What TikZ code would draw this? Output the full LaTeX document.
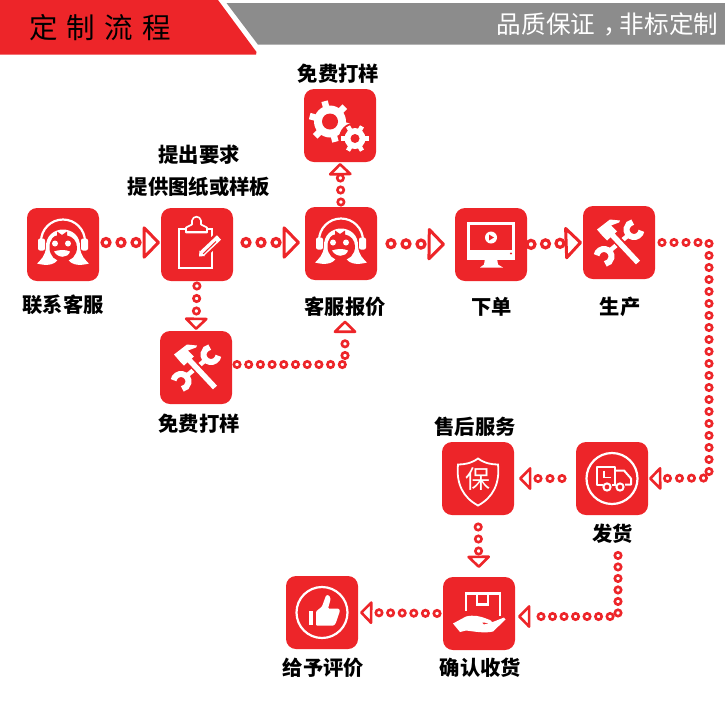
\documentclass[tikz,border=0pt]{standalone}
\usepackage{fontspec}
\setmainfont{Noto Sans CJK SC}
\usepackage{xcolor}
\usetikzlibrary{arrows.meta,decorations.markings}
\definecolor{brandred}{HTML}{ED2529}
\definecolor{bargray}{HTML}{8C8C8C}
\tikzset{
  icn/.style={fill=brandred, rounded corners=10pt, minimum width=72pt, minimum height=73pt, inner sep=0pt, outer sep=0pt},
  lab/.style={font=\fontsize{20.3}{32}\selectfont\bfseries, align=center, inner sep=0pt, text=black},
  flowa/.style n args={4}{decorate, decoration={markings,
      mark=between positions #1 and #2 step #3 with {\draw[brandred, fill=white, line width=3.2pt] (0,0) circle (4pt);},
      mark=at position -#4 with {\arrow[brandred, line width=3pt]{Triangle[open, round, length=18pt, width=36pt]}}}},
  flowb/.style n args={4}{decorate, decoration={markings,
      mark=between positions #1 and #2 step #3 with {\draw[brandred, fill=white, line width=2.6pt] (0,0) circle (3.2pt);},
      mark=at position -#4 with {\arrow[brandred, line width=2.6pt]{Triangle[open, round, length=13pt, width=26pt]}}}},
  wline/.style={draw=white, line width=2.2pt, line join=round},
  agent/.pic={
    \draw[wline] (-22,-3) arc (180:360:22);
    \fill[white, rounded corners=2pt] (-25,-6) rectangle (-18,6) (18,-6) rectangle (25,6);
    \fill[white] (-17,3) .. controls (-18,-21) and (18,-21) .. (17,3) .. controls (18,12) and (22,15) .. (26,19)
      .. controls (15,22) and (8,20) .. (4,14) -- (-4,14) .. controls (-8,20) and (-15,22) .. (-26,19) .. controls (-22,15) and (-18,12) .. (-17,3) -- cycle;
    \fill[brandred] (-13.5,3) .. controls (-13.5,-5) and (-9,-9) .. (-6,-9) -- (-6,-13) -- (-1,-9.5) -- (4,-13) -- (4,-9)
      .. controls (10,-8) and (14,-3) .. (14,3) .. controls (14,11) and (8,17) .. (0,17) .. controls (-8,17) and (-13.5,11) .. (-13.5,3) -- cycle;
    \fill[white] (-8,-1) circle (3) (5,-1) circle (3);
    \fill[white] (-9,7) .. controls (-4,5) and (3,5) .. (7,7) .. controls (5,14) and (-5,14) .. (-9,7) -- cycle;
  },
  clipboard/.pic={
    \draw[white, line width=2pt] (-18,-16) rectangle (15,23);
    \draw[white, fill=brandred, line width=1.6pt, line join=round] (-11,-12) -- (-11,-17) -- (-5,-20) -- (-5,-24) .. controls (-4,-29) and (3,-29) .. (4,-24) -- (4,-20) -- (10,-17) -- (10,-12) -- cycle;
    \draw[white, line width=1.4pt] (-11,-13) -- (10,-13);
    \draw[brandred, line width=11pt] (4,10) -- (25,-10);
    \draw[white, line width=6pt] (5,9) -- (22,-7);
    \draw[brandred, line width=1pt] (6,9.5) -- (19,-3);
    \fill[white] (2,12) -- (2.5,6) -- (8,11.5) -- cycle;
  },
  gears/.pic={
    \foreach \a in {15,75,...,315} \draw[white, line width=6.5pt] (-10,-4) -- ++(\a:21);
    \fill[white] (-10,-4) circle (16);
    \fill[brandred] (-10,-4) circle (8);
    \fill[brandred] (15,13) circle (16);
    \foreach \a in {0,60,...,300} \draw[white, line width=4.5pt] (15,13) -- ++(\a:14);
    \fill[white] (15,13) circle (10.5);
    \fill[brandred] (15,13) circle (4.5);
  },
  tools/.pic={
    \draw[white, line width=6pt] (15,-13) ++(10:7.5) arc (10:260:7.5);
    \draw[white, line width=6pt] (-15,14) ++(190:7.5) arc (190:440:7.5);
    \draw[white, line width=4.5pt] (9,-7) -- (-9,8);
    \draw[brandred, line width=9pt] (-6,-7) -- (8,8);
    \draw[white, line width=5.5pt] (-11,-12) -- (19,20);
    \fill[white] (-22,-13) -- (-9,-23) -- (1,-22) -- (0,-20) -- (-8,-17) -- (-2,-11) -- (-12,-2) -- (-16,-6) -- cycle;
  },
  monitor/.pic={
    \draw[white, line width=2.2pt] (-22.5,-21) rectangle (22.5,14);
    \fill[white] (-22,5) rectangle (22,14);
    \fill[white] (0,-7) circle (6);
    \fill[brandred] (-2,-10) -- (3,-7) -- (-2,-4) -- cycle;
    \fill[brandred] (20,9) circle (1.2);
    \fill[white] (-6,14) -- (6,14) -- (7,20) -- (12,23) -- (-11,23) -- (-7,20) -- cycle;
  },
  shield/.pic={
    \draw[white, line width=1.8pt] (0,-20) .. controls (7,-15) and (14,-14) .. (20,-14) .. controls (22,5) and (15,19) .. (0,27)
      .. controls (-15,19) and (-22,5) .. (-20,-14) .. controls (-14,-14) and (-7,-15) .. (0,-20) -- cycle;
  },
  truck/.pic={
    \draw[white, line width=2.2pt] (0,0) circle (25.5);
    \draw[white, line width=2pt, line join=round] (-9,6) -- (-15,6) -- (-15,-12) -- (3,-12) -- (3,6) -- (0,6);
    \draw[white, line width=2pt, line join=round] (3,-8) -- (12,-8) -- (19,0) -- (19,6) -- (13,6);
    \draw[white, line width=2pt] (-0.5,6) -- (4,6);
    \draw[white, line width=1.8pt] (-8,-8) -- (-8,-1) -- (-1,-1);
    \draw[white, fill=brandred, line width=2pt] (-5,8.5) circle (3.6) (8,8.5) circle (3.6);
  },
  handbox/.pic={
    \draw[white, line width=2.4pt] (-13,-3) -- (-13,-20) -- (21,-20) -- (21,2);
    \draw[white, line width=2.4pt] (-2,-20) -- (-2,-9) -- (9,-9) -- (9,-20);
    \fill[white] (-26,10) -- (-13,3) .. controls (-5,1) and (2,3) .. (7,5) -- (11,6.5) .. controls (14,8) and (13,9.5) .. (10,9.5) -- (3,9) -- (5,11) -- (15,8) -- (25,4) -- (26.5,6) -- (14,18) .. controls (6,20) and (-5,18) .. (-13,17) -- (-19,18.5) -- cycle;
  },
  thumbup/.pic={
    \draw[white, line width=2.2pt] (0,0) circle (25.5);
    \fill[white] (-13,-2) rectangle (-9,12);
    \fill[white, rounded corners=1pt] (-6,-1) -- (0,-6) -- (4,-17) .. controls (7,-18) and (9,-15) .. (8,-11) -- (6,-4) -- (15,-4) .. controls (18,-4) and (18,-1) .. (17,1) -- (14,10) .. controls (13,12) and (12,13) .. (10,13) -- (-6,13) -- cycle;
  },
}
\begin{document}
\begin{tikzpicture}[x=1pt, y=-1pt]
  \useasboundingbox (0,0) rectangle (725,705);
  % header bars
  \fill[brandred] (0,0) -- (218,0) -- (256.5,52) -- (256,54.5) -- (0,54.5) -- cycle;
  \fill[bargray] (226.5,3) -- (725,3) -- (725,44.7) -- (258,44.7) -- cycle;
  \node[font=\fontsize{28.5}{28}\selectfont, anchor=west, inner sep=0pt, text=black] (title) at (29,27.5) {定\hspace{9.3pt}制\hspace{9.3pt}流\hspace{9.3pt}程};
  \node[font=\fontsize{24.6}{24.6}\selectfont, anchor=east, inner sep=0pt, text=white] (slogan) at (718.5,24) {品质保证\hspace{8pt}，\hspace{-8pt}非标定制};
  % steps
  \node[icn] (kefua) at (63,244.5) {};
  \node[icn] (tiyao) at (197,244.5) {};
  \node[icn] (kefub) at (341,243.5) {};
  \node[icn] (gearbox) at (340,125.5) {};
  \node[icn] (dayang) at (196,367.5) {};
  \node[icn] (xiadan) at (491,244.5) {};
  \node[icn] (shengchan) at (619,242.5) {};
  \node[icn] (shouhou) at (478,478.5) {};
  \node[icn] (fahuo) at (612,478.5) {};
  \node[icn] (queren) at (479,613.5) {};
  \node[icn] (pingjia) at (322,612.5) {};
  \pic at (kefua) {agent};
  \pic at (tiyao) {clipboard};
  \pic at (kefub) {agent};
  \pic at (gearbox) {gears};
  \pic at (dayang) {tools};
  \pic at (xiadan) {monitor};
  \pic at (shengchan) {tools};
  \pic at (shouhou) {shield};
  \pic at (fahuo) {truck};
  \pic at (queren) {handbox};
  \pic at (pingjia) {thumbup};
  \node[font=\fontsize{25}{25}\selectfont, text=white, inner sep=0pt] (baochar) at (478,479) {保};
  % labels
  \node[lab] (labkefua) at (63,304.5) {联系客服};
  \node[lab] (labtiyao) at (199,170.5) {提出要求\\提供图纸或样板};
  \node[lab] (labgear) at (338.5,73.5) {免费打样};
  \node[lab] (labkefub) at (345,306.5) {客服报价};
  \node[lab] (labdayang) at (199,423.5) {免费打样};
  \node[lab] (labxiadan) at (491.5,306.5) {下单};
  \node[lab] (labsheng) at (620,306.5) {生产};
  \node[lab] (labshouhou) at (475,426.5) {售后服务};
  \node[lab] (labfahuo) at (612.5,533.5) {发货};
  \node[lab] (labqueren) at (480.5,667.5) {确认收货};
  \node[lab] (labpingjia) at (323.5,667.5) {给予评价};
  % corners of the long runs
  \coordinate (cornera) at (709,242.5);
  \coordinate (cornerb) at (709,478);
  % connectors
  \path[flowa={7pt}{-22pt}{15pt}{1pt}] ([yshift=2pt]kefua.east) -- ([yshift=2pt]tiyao.west);
  \path[flowa={13pt}{-22pt}{15pt}{5pt}] ([yshift=2pt]tiyao.east) -- ([yshift=1pt]kefub.west);
  \path[flowa={14pt}{-27pt}{15pt}{10pt}] (kefub.east) -- (xiadan.west);
  \path[flowa={4pt}{-20pt}{14.5pt}{1pt}] (xiadan.east) -- (shengchan.west);
  \path[flowb={5pt}{-14pt}{12pt}{1pt}] (kefub.north) -- (gearbox.south);
  \path[flowb={5pt}{-17pt}{12.5pt}{1pt}] (tiyao.south) -- (dayang.north);
  \path[flowb={5pt}{-20pt}{11.7pt}{4pt}] ([yshift=3pt]dayang.east) -| (labkefub.south);
  \path[flowb={7pt}{-17pt}{12pt}{1pt}] (shengchan.east) -- (cornera) -- (cornerb) -- (fahuo.east);
  \path[flowb={14pt}{-21pt}{12pt}{5pt}] (fahuo.west) -- (shouhou.east);
  \path[flowb={12pt}{-25pt}{12pt}{9pt}] (shouhou.south) -- (queren.north);
  \path[flowb={12pt}{-19pt}{11.5pt}{3pt}] ([xshift=5.5pt]labfahuo.south) |- ([yshift=-3pt]queren.east);
  \path[flowb={6pt}{-18pt}{11.6pt}{2pt}] (queren.west) -- (pingjia.east);
\end{tikzpicture}
\end{document}
